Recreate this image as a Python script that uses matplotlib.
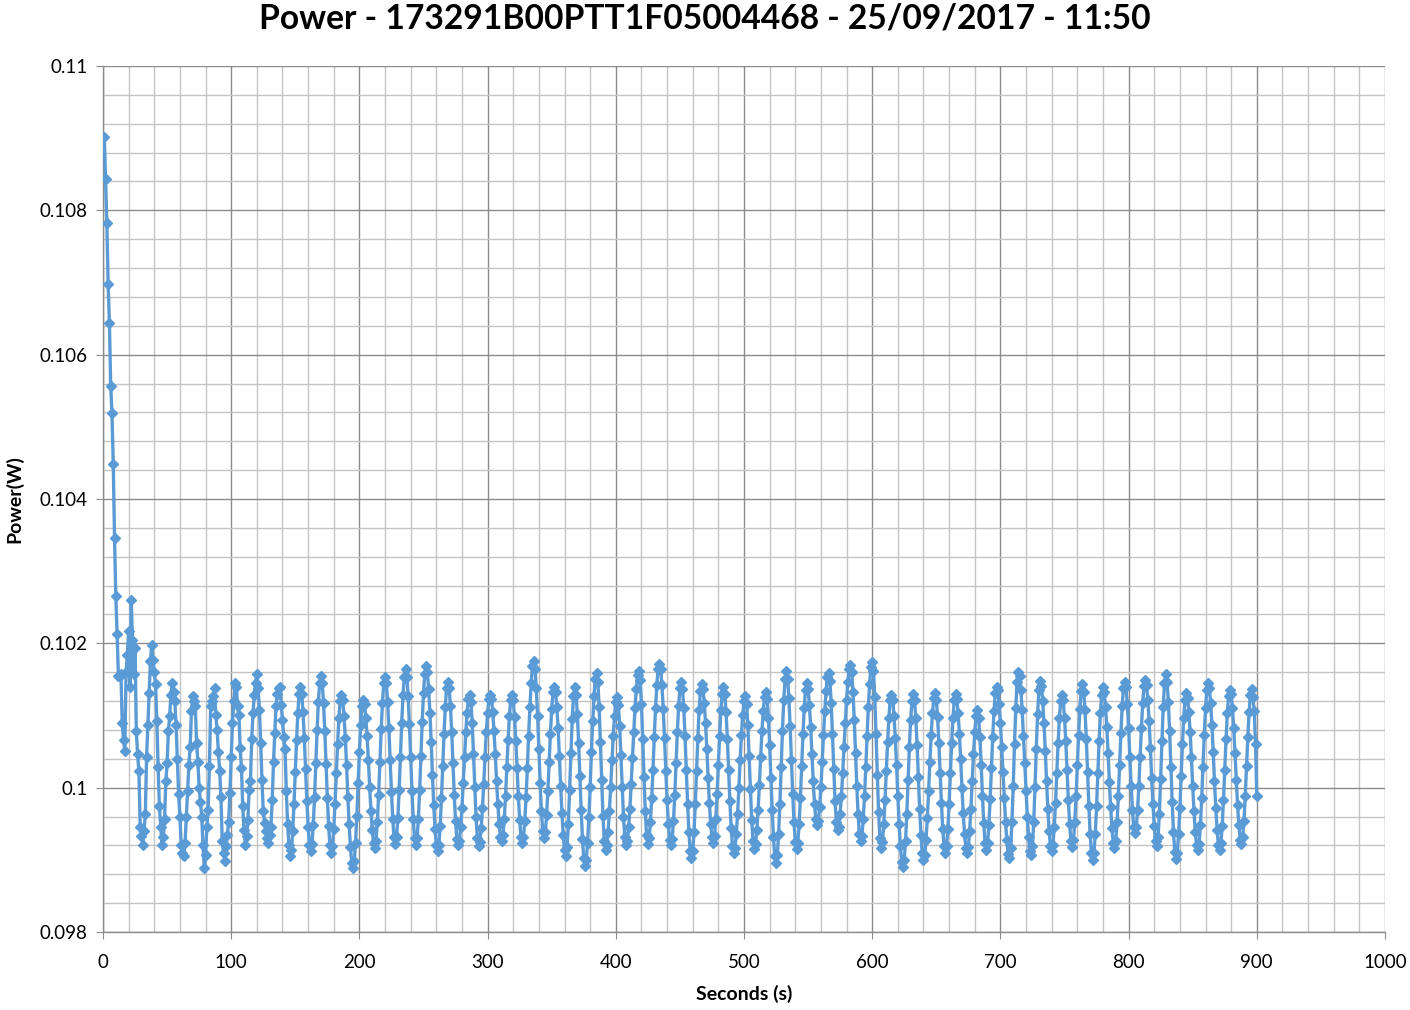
import numpy as np
import matplotlib
matplotlib.use("Agg")
import matplotlib.pyplot as plt
from matplotlib.ticker import MultipleLocator, FuncFormatter

# Chart text
title = "Power - 173291B00PTT1F05004468 - 25/09/2017 - 11:50"
x_label = "Seconds (s)"
y_label = "Power(W)"

# Power readings in mW, one per second starting at t = 1 s (10 per row)
power_mw = [
    109.02, 108.44, 107.83, 106.98, 106.44, 105.57, 105.19, 104.48, 103.46, 102.65,
    102.13, 101.55, 101.55, 101.57, 100.90, 100.66, 100.51, 101.60, 101.84, 102.17,
    101.39, 102.60, 102.05, 101.57, 101.94, 100.78, 100.46, 100.23, 99.46, 99.33,
    99.20, 99.40, 99.63, 100.43, 100.87, 101.31, 101.75, 101.98, 101.77, 101.60,
    101.43, 100.93, 100.28, 99.74, 99.46, 99.20, 99.31, 99.56, 100.09, 100.34,
    100.78, 100.99, 101.29, 101.45, 101.32, 101.20, 100.87, 100.40, 99.91, 99.60,
    99.21, 99.10, 99.06, 99.23, 99.60, 99.95, 100.32, 100.57, 101.06, 101.27,
    101.20, 101.13, 100.62, 100.36, 100.00, 99.80, 99.60, 99.20, 98.89, 99.07,
    99.45, 99.69, 100.30, 101.13, 101.20, 101.27, 101.38, 101.01, 100.80, 100.50,
    100.23, 99.87, 99.26, 99.10, 98.99, 99.19, 99.35, 99.53, 99.93, 100.43,
    100.90, 101.20, 101.45, 101.40, 101.13, 101.01, 100.55, 100.27, 99.74, 99.42,
    99.21, 99.33, 99.55, 99.97, 100.09, 100.67, 101.03, 101.29, 101.45, 101.57,
    101.38, 101.08, 100.62, 100.10, 99.67, 99.51, 99.40, 99.30, 99.24, 99.35,
    99.46, 99.83, 100.35, 100.76, 101.13, 101.30, 101.38, 101.40, 101.15, 100.94,
    100.70, 100.53, 99.95, 99.50, 99.20, 99.05, 99.14, 99.40, 99.78, 100.22,
    100.66, 101.04, 101.30, 101.39, 101.30, 101.05, 100.69, 100.26, 99.82, 99.46,
    99.21, 99.12, 99.22, 99.48, 99.87, 100.34, 100.80, 101.19, 101.45, 101.55,
    101.45, 101.18, 100.79, 100.33, 99.86, 99.47, 99.20, 99.10, 99.19, 99.43,
    99.78, 100.20, 100.61, 100.96, 101.20, 101.29, 101.22, 101.00, 100.69, 100.31,
    99.87, 99.49, 99.18, 98.96, 98.89, 98.98, 99.24, 99.61, 100.06, 100.50,
    100.87, 101.13, 101.22, 101.16, 100.97, 100.71, 100.38, 100.01, 99.68, 99.42,
    99.23, 99.17, 99.26, 99.53, 99.90, 100.36, 100.81, 101.18, 101.45, 101.54,
    101.45, 101.19, 100.82, 100.38, 99.94, 99.57, 99.31, 99.22, 99.32, 99.58,
    99.97, 100.43, 100.89, 101.28, 101.54, 101.64, 101.54, 101.27, 100.88, 100.42,
    99.96, 99.57, 99.30, 99.20, 99.30, 99.57, 99.97, 100.44, 100.91, 101.31,
    101.58, 101.68, 101.60, 101.37, 101.04, 100.63, 100.17, 99.76, 99.43, 99.20,
    99.12, 99.21, 99.47, 99.85, 100.30, 100.74, 101.12, 101.38, 101.47, 101.38,
    101.13, 100.77, 100.34, 99.90, 99.54, 99.29, 99.20, 99.26, 99.45, 99.72,
    100.06, 100.43, 100.77, 101.04, 101.23, 101.29, 101.19, 100.89, 100.47, 100.01,
    99.59, 99.30, 99.19, 99.25, 99.44, 99.72, 100.05, 100.43, 100.77, 101.04,
    101.23, 101.29, 101.23, 101.05, 100.78, 100.46, 100.09, 99.77, 99.50, 99.32,
    99.26, 99.34, 99.56, 99.89, 100.28, 100.66, 100.99, 101.21, 101.29, 101.21,
    100.98, 100.65, 100.27, 99.88, 99.55, 99.32, 99.24, 99.32, 99.54, 99.87,
    100.27, 100.72, 101.12, 101.45, 101.68, 101.75, 101.65, 101.38, 100.99, 100.53,
    100.06, 99.67, 99.40, 99.30, 99.38, 99.62, 99.95, 100.35, 100.75, 101.09,
    101.32, 101.40, 101.33, 101.12, 100.82, 100.44, 100.02, 99.65, 99.34, 99.13,
    99.06, 99.18, 99.50, 99.97, 100.48, 100.95, 101.27, 101.39, 101.29, 101.02,
    100.62, 100.16, 99.69, 99.29, 99.02, 98.92, 99.00, 99.24, 99.59, 100.01,
    100.50, 100.92, 101.27, 101.51, 101.59, 101.47, 101.12, 100.63, 100.10, 99.61,
    99.26, 99.14, 99.20, 99.39, 99.67, 100.01, 100.38, 100.72, 101.00, 101.19,
    101.25, 101.15, 100.86, 100.45, 100.01, 99.60, 99.31, 99.21, 99.26, 99.45,
    99.71, 100.05, 100.41, 100.77, 101.11, 101.37, 101.56, 101.61, 101.49, 101.16,
    100.68, 100.15, 99.67, 99.34, 99.22, 99.30, 99.52, 99.85, 100.25, 100.70,
    101.10, 101.42, 101.65, 101.72, 101.64, 101.42, 101.09, 100.69, 100.23, 99.83,
    99.50, 99.28, 99.20, 99.29, 99.54, 99.90, 100.34, 100.77, 101.13, 101.38,
    101.47, 101.37, 101.10, 100.71, 100.25, 99.78, 99.39, 99.12, 99.02, 99.12,
    99.38, 99.77, 100.23, 100.69, 101.08, 101.34, 101.44, 101.37, 101.18, 100.89,
    100.54, 100.14, 99.79, 99.50, 99.31, 99.24, 99.33, 99.56, 99.91, 100.32,
    100.72, 101.07, 101.30, 101.39, 101.30, 101.05, 100.68, 100.25, 99.81, 99.44,
    99.19, 99.10, 99.17, 99.36, 99.64, 99.99, 100.38, 100.73, 101.01, 101.20,
    101.27, 101.16, 100.87, 100.44, 99.98, 99.55, 99.26, 99.15, 99.22, 99.41,
    99.69, 100.04, 100.43, 100.78, 101.06, 101.25, 101.32, 101.23, 100.97, 100.59,
    100.14, 99.69, 99.31, 99.05, 98.96, 99.07, 99.36, 99.78, 100.29, 100.79,
    101.21, 101.50, 101.61, 101.51, 101.24, 100.85, 100.38, 99.91, 99.52, 99.25,
    99.15, 99.24, 99.50, 99.86, 100.30, 100.74, 101.11, 101.36, 101.45, 101.37,
    101.15, 100.84, 100.47, 100.09, 99.78, 99.56, 99.48, 99.54, 99.73, 100.01,
    100.35, 100.73, 101.06, 101.34, 101.53, 101.59, 101.48, 101.18, 100.74, 100.26,
    99.82, 99.52, 99.41, 99.46, 99.64, 99.89, 100.21, 100.56, 100.90, 101.22,
    101.47, 101.65, 101.70, 101.60, 101.33, 100.94, 100.48, 100.02, 99.63, 99.36,
    99.26, 99.33, 99.56, 99.88, 100.28, 100.72, 101.12, 101.44, 101.67, 101.74,
    101.61, 101.25, 100.74, 100.17, 99.66, 99.30, 99.17, 99.25, 99.49, 99.83,
    100.23, 100.63, 100.97, 101.21, 101.29, 101.22, 101.00, 100.69, 100.31, 99.88,
    99.50, 99.19, 98.97, 98.90, 99.00, 99.26, 99.64, 100.10, 100.56, 100.94,
    101.20, 101.30, 101.21, 100.96, 100.59, 100.15, 99.71, 99.35, 99.09, 99.00,
    99.07, 99.28, 99.58, 99.95, 100.36, 100.73, 101.03, 101.24, 101.31, 101.22,
    100.98, 100.62, 100.21, 99.79, 99.43, 99.19, 99.10, 99.19, 99.43, 99.78,
    100.20, 100.62, 100.97, 101.21, 101.30, 101.23, 101.04, 100.75, 100.40, 100.00,
    99.65, 99.36, 99.17, 99.10, 99.18, 99.40, 99.71, 100.09, 100.46, 100.77,
    100.99, 101.07, 100.97, 100.70, 100.32, 99.89, 99.51, 99.24, 99.14, 99.23,
    99.48, 99.84, 100.27, 100.70, 101.06, 101.31, 101.40, 101.35, 101.16, 100.90,
    100.57, 100.22, 99.86, 99.53, 99.27, 99.08, 99.03, 99.16, 99.52, 100.03,
    100.60, 101.11, 101.47, 101.60, 101.55, 101.35, 101.07, 100.71, 100.34, 99.96,
    99.60, 99.32, 99.12, 99.07, 99.19, 99.53, 100.01, 100.54, 101.02, 101.36,
    101.48, 101.41, 101.20, 100.89, 100.51, 100.09, 99.71, 99.40, 99.19, 99.12,
    99.21, 99.45, 99.79, 100.21, 100.62, 100.96, 101.20, 101.29, 101.21, 100.97,
    100.64, 100.24, 99.83, 99.50, 99.26, 99.18, 99.27, 99.52, 99.88, 100.31,
    100.73, 101.09, 101.34, 101.43, 101.33, 101.07, 100.68, 100.22, 99.75, 99.36,
    99.10, 99.00, 99.10, 99.36, 99.74, 100.20, 100.65, 101.03, 101.29, 101.39,
    101.32, 101.12, 100.84, 100.48, 100.08, 99.73, 99.44, 99.24, 99.17, 99.26,
    99.52, 99.88, 100.32, 100.76, 101.13, 101.38, 101.47, 101.39, 101.16, 100.82,
    100.42, 100.02, 99.69, 99.45, 99.37, 99.45, 99.69, 100.03, 100.43, 100.83,
    101.17, 101.41, 101.49, 101.42, 101.21, 100.92, 100.55, 100.13, 99.77, 99.47,
    99.26, 99.19, 99.31, 99.64, 100.12, 100.64, 101.12, 101.45, 101.57, 101.47,
    101.19, 100.78, 100.29, 99.80, 99.39, 99.11, 99.01, 99.10, 99.36, 99.72,
    100.16, 100.60, 100.97, 101.22, 101.31, 101.24, 101.05, 100.77, 100.42, 100.02,
    99.68, 99.39, 99.20, 99.13, 99.22, 99.48, 99.85, 100.29, 100.73, 101.10,
    101.36, 101.45, 101.38, 101.17, 100.87, 100.50, 100.09, 99.72, 99.42, 99.21,
    99.14, 99.23, 99.47, 99.83, 100.25, 100.67, 101.03, 101.27, 101.36, 101.30,
    101.10, 100.83, 100.48, 100.10, 99.76, 99.48, 99.28, 99.22, 99.31, 99.54,
    99.89, 100.30, 100.70, 101.05, 101.28, 101.37, 101.25, 101.06, 100.60, 99.89,
]

seconds = np.arange(1, len(power_mw) + 1)
power_w = np.array(power_mw) / 1000.0

plt.rcParams["font.family"] = ["Lato", "DejaVu Sans"]

fig = plt.figure(figsize=(14.1, 10.1), dpi=100)
ax = fig.add_axes([103 / 1410, 78 / 1010, 1282 / 1410, 866 / 1010])

ax.plot(seconds, power_w, color="#5B9BD5", linewidth=2.4,
        marker="D", markersize=5, markerfacecolor="#5B9BD5",
        markeredgecolor="#5B9BD5", zorder=3)

ax.set_xlim(0, 1000)
ax.set_ylim(0.098, 0.110)
ax.xaxis.set_major_locator(MultipleLocator(100))
ax.xaxis.set_minor_locator(MultipleLocator(20))
ax.yaxis.set_major_locator(MultipleLocator(0.002))
ax.yaxis.set_minor_locator(MultipleLocator(0.0004))
ax.yaxis.set_major_formatter(FuncFormatter(lambda v, p: f"{v:.3f}".rstrip("0").rstrip(".")))

# Excel-like gridlines
ax.grid(which="major", color="#8c8c8c", linewidth=1.0)
ax.grid(which="minor", color="#c4c4c4", linewidth=1.0)
ax.set_axisbelow(True)

for side in ["top", "right"]:
    ax.spines[side].set_visible(False)
for side in ["left", "bottom"]:
    ax.spines[side].set_color("#8c8c8c")
    ax.spines[side].set_linewidth(1.0)

ax.tick_params(which="major", length=5, color="#8c8c8c", labelsize=13.5)
ax.tick_params(axis="x", which="major", pad=11)
ax.tick_params(axis="y", which="major", pad=6)
ax.tick_params(which="minor", length=0)

ax.set_xlabel(x_label, fontsize=14, fontweight="bold", labelpad=10)
ax.set_ylabel(y_label, fontsize=14, fontweight="bold", labelpad=12)

fig.text(0.5, 1 - 18 / 1010, title, ha="center", va="center",
         fontsize=24.2, fontweight="bold")

fig.savefig("out.png", dpi=100)
